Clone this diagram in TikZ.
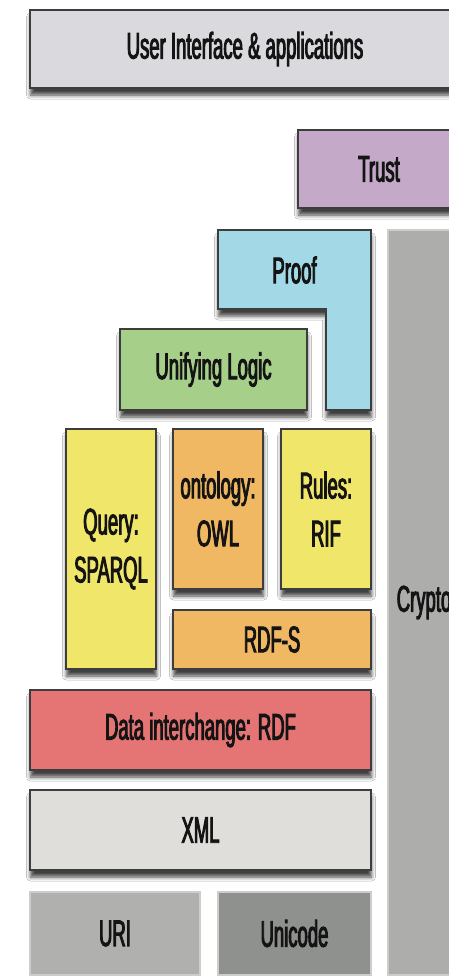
\documentclass[tikz,border=0pt]{standalone}
\usepackage{fontspec}
\setmainfont[FakeStretch=0.5,FakeBold=2.5]{Liberation Sans}
\usetikzlibrary{shadows.blur}

\definecolor{edgegray}{HTML}{3C3D3C}
\definecolor{basegray}{HTML}{CDCECB}
\definecolor{uicol}{HTML}{D9D9DE}
\definecolor{trustcol}{HTML}{C4A9C8}
\definecolor{proofcol}{HTML}{A3D8E6}
\definecolor{logiccol}{HTML}{A6CF8A}
\definecolor{yellowcol}{HTML}{F0E66A}
\definecolor{orangecol}{HTML}{F0B862}
\definecolor{rdfcol}{HTML}{E47574}
\definecolor{xmlcol}{HTML}{E0DEDB}
\definecolor{uricol}{HTML}{B0B1AE}
\definecolor{unicodecol}{HTML}{8F918E}
\definecolor{cryptocol}{HTML}{ADAEAB}

\tikzset{
  layerfont/.style={font=\fontsize{37}{48}\selectfont, text=black!92, align=center},
  layershadow/.style={blur shadow={shadow xshift=0.5pt, shadow yshift=-7pt, shadow blur radius=4pt, shadow opacity=75}},
  layer/.style={layerfont, layershadow, rectangle, inner sep=0pt, draw=edgegray, line width=1.6pt},
  baselayer/.style={layerfont, rectangle, inner sep=0pt, draw=basegray, line width=1.2pt}
}

\begin{document}
\begin{tikzpicture}[x=1pt,y=-1pt]
                \useasboundingbox (0,0) rectangle (449,978);
                \clip (0,0) rectangle (449,978);
                \fill[white] (0,0) rectangle (449,978);
                \node[layer,fill=uicol,minimum width=430,minimum height=78] (ui) at (245,49) {User Interface \& applications};
                \node[layer,fill=trustcol,minimum width=162,minimum height=78] (trust) at (379,169) {Trust};
                % proof layer wraps round the right side of unifying logic
                \filldraw[draw=edgegray,line width=1.6pt,fill=proofcol,layershadow]
                  (218,230) -- (371,230) -- (371,410) -- (326,410) -- (326,309) -- (218,309) -- cycle;
                \node[layerfont] (proof) at (294.5,270) {Proof};
                \node[layer,fill=logiccol,minimum width=187,minimum height=81] (logic) at (213.5,369.5) {Unifying Logic};
                \node[layer,fill=yellowcol,minimum width=90,minimum height=240] (query) at (111,549) {Query:\\SPARQL};
                \node[layer,fill=orangecol,minimum width=90,minimum height=160] (owl) at (218,509) {ontology:\\OWL};
                \node[layer,fill=yellowcol,minimum width=90,minimum height=160] (rif) at (326,509) {Rules:\\RIF};
                \node[layer,fill=orangecol,minimum width=198,minimum height=59] (rdfs) at (272,639.5) {RDF-S};
                \node[layer,fill=rdfcol,minimum width=341,minimum height=80] (rdf) at (200.5,730) {Data interchange: RDF};
                \node[layer,fill=xmlcol,minimum width=341,minimum height=80] (xml) at (200.5,830) {XML};
                \node[baselayer,fill=uricol,minimum width=170,minimum height=83] (uri) at (115,933.5) {URI};
                \node[baselayer,fill=unicodecol,minimum width=153,minimum height=83] (unicode) at (294.5,933.5) {Unicode};
                \node[baselayer,fill=cryptocol,minimum width=72,minimum height=745] (crypto) at (424,602.5) {Crypto};
            \end{tikzpicture}
\end{document}
